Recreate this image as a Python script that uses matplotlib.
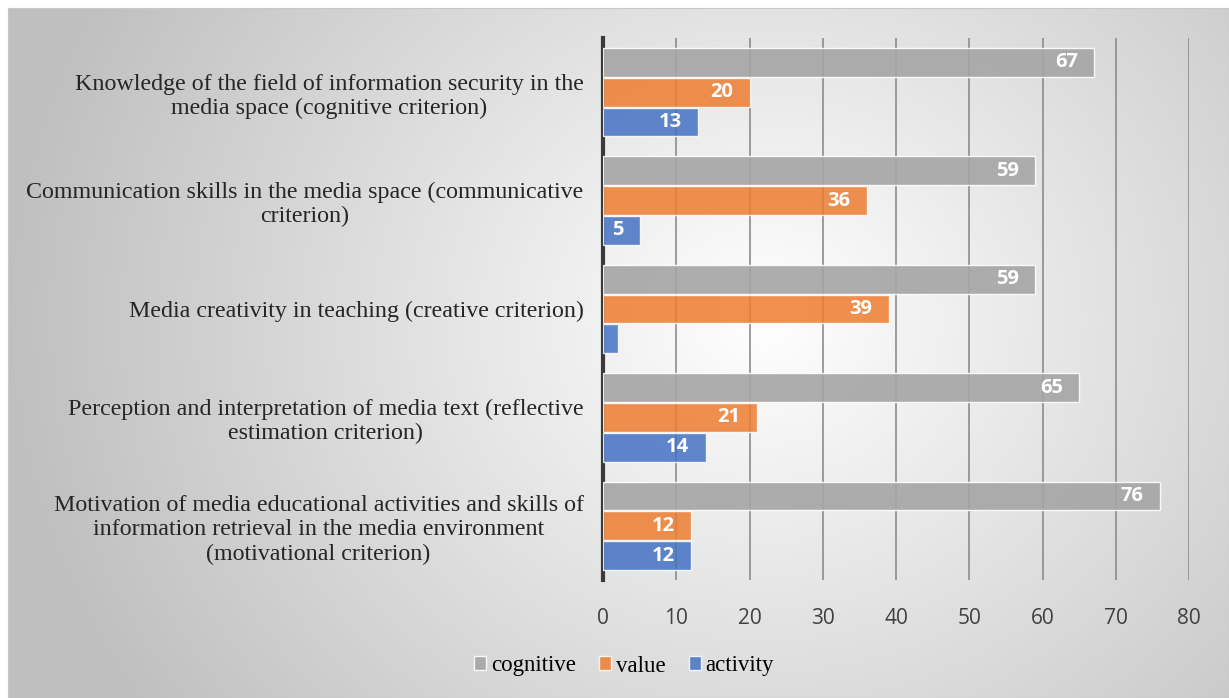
import matplotlib.pyplot as plt
import numpy as np

# categories from top to bottom
categories = [
    "Knowledge of the field of information security in the\nmedia space (cognitive criterion)",
    "Communication skills in the media space (communicative\ncriterion)",
    "Media creativity in teaching (creative criterion)",
    "Perception and interpretation of media text (reflective\nestimation criterion)",
    "Motivation of media educational activities and skills of\ninformation retrieval in the media environment\n(motivational criterion)",
]
cognitive = [67, 59, 59, 65, 76]
value = [20, 36, 39, 21, 12]
activity = [13, 5, 2, 14, 12]
activity_labels = ["13", "5", "", "14", "12"]

fig = plt.figure(figsize=(12.29, 6.98), dpi=100)

# radial gradient background
bg = fig.add_axes([8 / 1229, 0, 1 - 8 / 1229, 1 - 8 / 698], zorder=-10)
gx, gy = np.meshgrid(np.linspace(0, 1, 400), np.linspace(0, 1, 300))
r = np.sqrt(((gx - 0.62) * 1.6) ** 2 + ((gy - 0.55) * 1.0) ** 2)
r = np.clip(r / 1.0, 0, 1)
shade = 1.0 - 0.25 * r
bg.imshow(np.dstack([shade, shade, shade]), extent=[0, 1, 0, 1], aspect="auto", origin="lower")
bg.set_xticks([])
bg.set_yticks([])
for s in bg.spines.values():
    s.set_color("#c8c8c8")

ax = fig.add_axes([603 / 1229, 1 - 580 / 698, (1189 - 603) / 1229, (580 - 38) / 698])
ax.patch.set_alpha(0)

y = np.arange(len(categories))
h = 0.265
off = 0.275
b1 = ax.barh(y - off, cognitive, height=h, color="#a5a5a5", alpha=0.9, edgecolor="white", linewidth=1, zorder=3)
b2 = ax.barh(y, value, height=h, color="#ed7d31", alpha=0.85, edgecolor="white", linewidth=1, zorder=3)
b3 = ax.barh(y + off, activity, height=h, color="#4472c4", alpha=0.85, edgecolor="white", linewidth=1, zorder=3)

for bars, vals in [(b1, cognitive), (b2, value), (b3, activity_labels)]:
    for bar, v in zip(bars, vals):
        if str(v) == "":
            continue
        ax.text(bar.get_width() - 2.2, bar.get_y() + bar.get_height() / 2, str(v),
                ha="right", va="center", color="white", fontweight="bold",
                fontsize=14.5, family="Open Sans", zorder=4)

ax.set_xlim(0, 80)
ax.set_ylim(len(categories) - 0.5, -0.5)
ax.set_xticks(range(0, 81, 10))
ax.xaxis.grid(True, color="#8c8c8c", linewidth=1.2, zorder=0)
ax.set_axisbelow(True)
ax.set_yticks(y)
ax.set_yticklabels(categories, family="Liberation Serif", fontsize=17.3, color="#262626",
                   multialignment="center")
ax.tick_params(axis="y", length=0, pad=14)
ax.tick_params(axis="x", length=0, pad=20, labelsize=15, labelcolor="#404040")
for lab in ax.get_xticklabels():
    lab.set_family("Open Sans")
for side in ["top", "right", "bottom"]:
    ax.spines[side].set_visible(False)
ax.spines["left"].set_color("#3a3a3a")
ax.spines["left"].set_linewidth(3)

fig.legend([b1, b2, b3], ["cognitive", "value", "activity"], loc="center",
           bbox_to_anchor=(624 / 1229, 1 - 666 / 698), ncol=3, frameon=False,
           prop={"family": "Liberation Serif", "size": 16.5}, handlelength=0.55,
           handleheight=0.55, handletextpad=0.2, columnspacing=1.0)

fig.savefig("out.png", dpi=100)
